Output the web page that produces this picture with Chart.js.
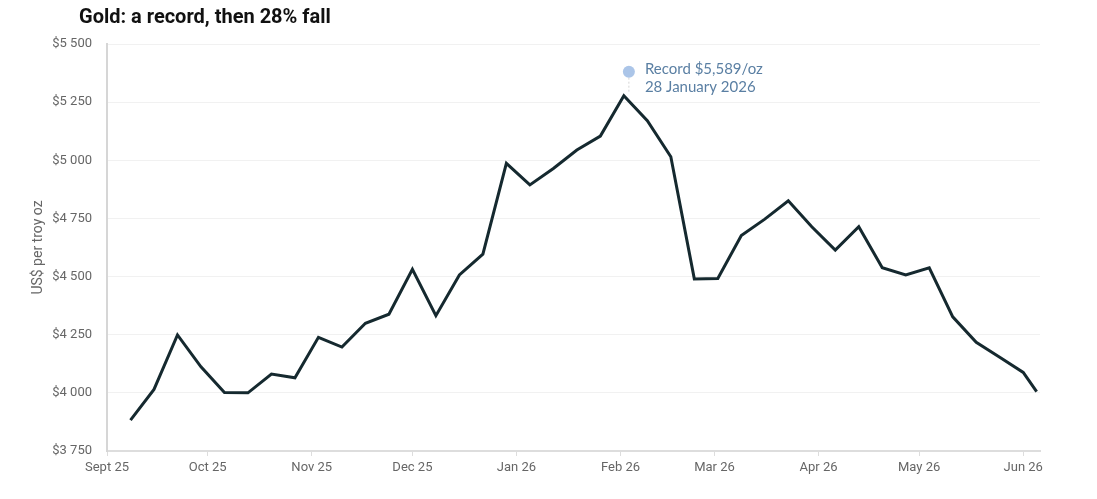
<!DOCTYPE html>
<html lang="en">
<head>
    <meta charset="UTF-8">
    <title>Gold: a record, then 28% fall</title>
    <script src="https://cdn.jsdelivr.net/npm/chart.js"></script>
    <style>
        html, body { margin: 0; padding: 0; background: #ffffff; }
        .wrap { width: 1097px; height: 499px; position: relative; }
    </style>
</head>
<body>
    <div class="wrap">
        <canvas id="goldChart" width="1097" height="499"></canvas>
    </div>

<script>
    // weekly gold price, US$ per troy oz
    const dates = [
        '2025-09-08', '2025-09-15', '2025-09-22', '2025-09-29',
        '2025-10-06', '2025-10-13', '2025-10-20', '2025-10-27',
        '2025-11-03', '2025-11-10', '2025-11-17', '2025-11-24',
        '2025-12-01', '2025-12-08', '2025-12-15', '2025-12-22', '2025-12-29',
        '2026-01-05', '2026-01-12', '2026-01-19', '2026-01-26',
        '2026-02-02', '2026-02-09', '2026-02-16', '2026-02-23',
        '2026-03-02', '2026-03-09', '2026-03-16', '2026-03-23', '2026-03-30',
        '2026-04-06', '2026-04-13', '2026-04-20', '2026-04-27',
        '2026-05-04', '2026-05-11', '2026-05-18', '2026-05-25',
        '2026-06-01', '2026-06-05'
    ];
    const prices = [
        3883, 4015, 4249, 4112,
        4001, 4000, 4081, 4065,
        4239, 4197, 4299, 4338,
        4531, 4332, 4507, 4596, 4987,
        4894, 4965, 5044, 5104,
        5278, 5170, 5015, 4490,
        4492, 4676, 4747, 4826, 4714,
        4614, 4714, 4538, 4507,
        4538, 4327, 4217, 4153,
        4088, 4005
    ];

    const monthTickDates = [
        '2025-09-01', '2025-10-01', '2025-11-01', '2025-12-01', '2026-01-01',
        '2026-02-01', '2026-03-01', '2026-04-01', '2026-05-01', '2026-06-01'
    ];
    const monthTickLabels = [
        'Sept 25', 'Oct 25', 'Nov 25', 'Dec 25', 'Jan 26',
        'Feb 26', 'Mar 26', 'Apr 26', 'May 26', 'Jun 26'
    ];
    const axisEndDate = '2026-06-06';

    const yTicks = [3750, 4000, 4250, 4500, 4750, 5000, 5250, 5500];

    // annotation marker (drawn above the peak)
    const recordLines = ['Record $5,589/oz', '28 January 2026'];
    const recordMarkerDay = 155.5;
    const recordMarkerValue = 5381;
    const peakIndex = 21;

    const DAY = 86400000;
    const origin = Date.parse(monthTickDates[0]);
    function toDay(s) { return (Date.parse(s) - origin) / DAY; }

    const points = dates.map((d, i) => ({ x: toDay(d), y: prices[i] }));
    const monthDays = monthTickDates.map(toDay);

    function fmtDollar(v) {
        const s = String(v);
        return '$' + s.slice(0, s.length - 3) + ' ' + s.slice(-3);
    }

    // chart title drawn top-left
    const titlePlugin = {
        id: 'titleLeft',
        afterDraw(chart) {
            const ctx = chart.ctx;
            ctx.save();
            ctx.font = 'bold 20px Roboto';
            ctx.fillStyle = '#111111';
            ctx.textBaseline = 'alphabetic';
            ctx.textAlign = 'left';
            ctx.fillText('Gold: a record, then 28% fall', 79, 23);
            ctx.restore();
        }
    };

    // record marker, stem and label
    const recordPlugin = {
        id: 'recordNote',
        afterDatasetsDraw(chart) {
            const ctx = chart.ctx;
            const xs = chart.scales.x;
            const ys = chart.scales.y;
            const px = xs.getPixelForValue(recordMarkerDay);
            const py = ys.getPixelForValue(recordMarkerValue);
            const peakY = ys.getPixelForValue(prices[peakIndex]);

            ctx.save();
            ctx.strokeStyle = '#d4d4d4';
            ctx.lineWidth = 1;
            ctx.setLineDash([2, 2]);
            ctx.beginPath();
            ctx.moveTo(px, py + 6);
            ctx.lineTo(px, peakY - 3);
            ctx.stroke();
            ctx.setLineDash([]);

            ctx.fillStyle = '#abc5e8';
            ctx.beginPath();
            ctx.arc(px, py, 6, 0, Math.PI * 2);
            ctx.fill();

            ctx.font = '15px Lato';
            ctx.fillStyle = '#5a7fa3';
            ctx.textAlign = 'left';
            ctx.textBaseline = 'middle';
            ctx.fillText(recordLines[0], px + 16, py - 3);
            ctx.fillText(recordLines[1], px + 16, py + 15);
            ctx.restore();
        }
    };

    const config = {
        type: 'line',
        data: {
            datasets: [{
                label: 'Gold',
                data: points,
                borderColor: '#15292f',
                borderWidth: 3,
                pointRadius: 0,
                tension: 0,
                fill: false
            }]
        },
        options: {
            responsive: false,
            animation: false,
            layout: {
                padding: { top: 44, right: 57, bottom: 0, left: 0 }
            },
            plugins: {
                legend: { display: false },
                tooltip: { enabled: false },
                title: { display: false }
            },
            scales: {
                x: {
                    type: 'linear',
                    min: 0,
                    max: toDay(axisEndDate),
                    afterBuildTicks: (axis) => {
                        axis.ticks = monthDays.map(v => ({ value: v }));
                    },
                    afterFit: (axis) => { axis.height = 48; },
                    ticks: {
                        autoSkip: false,
                        maxRotation: 0,
                        color: '#666666',
                        font: { family: 'Roboto', size: 13 },
                        padding: 4,
                        callback: (value) => {
                            const i = monthDays.indexOf(value);
                            return i >= 0 ? monthTickLabels[i] : '';
                        }
                    },
                    grid: {
                        drawOnChartArea: false,
                        drawTicks: true,
                        tickLength: 5,
                        color: '#dddddd'
                    },
                    border: { display: true, color: '#dddddd', width: 2 }
                },
                y: {
                    min: yTicks[0],
                    max: yTicks[yTicks.length - 1],
                    afterBuildTicks: (axis) => {
                        axis.ticks = yTicks.map(v => ({ value: v }));
                    },
                    afterFit: (axis) => { axis.width = 107; },
                    ticks: {
                        color: '#666666',
                        font: { family: 'Roboto', size: 13 },
                        padding: 15,
                        callback: (value) => fmtDollar(value)
                    },
                    grid: {
                        drawTicks: false,
                        color: '#f1f1f1',
                        lineWidth: 1
                    },
                    border: { display: true, color: '#d6d6d6', width: 2 },
                    title: {
                        display: true,
                        text: 'US$ per troy oz',
                        color: '#666666',
                        font: { family: 'Roboto', size: 14 },
                        padding: { top: 30, bottom: 0 }
                    }
                }
            }
        },
        plugins: [titlePlugin, recordPlugin]
    };

    const goldChart = new Chart(document.getElementById('goldChart'), config);
</script>
</body>
</html>
